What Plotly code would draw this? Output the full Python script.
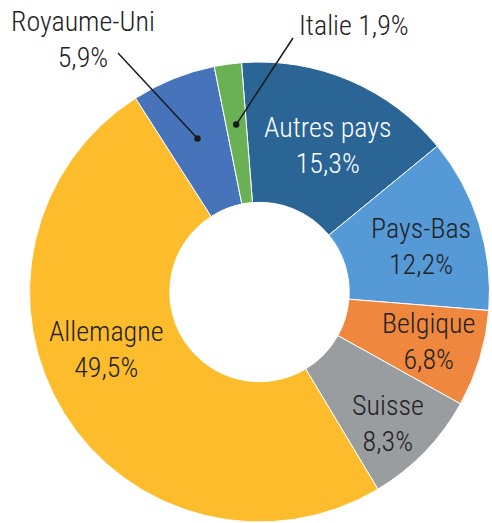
import math
import plotly.graph_objects as go

countries = ["Autres pays", "Pays-Bas", "Belgique", "Suisse", "Allemagne", "Royaume-Uni", "Italie"]
shares = [15.3, 12.2, 6.8, 8.3, 49.5, 5.9, 1.9]
value_labels = ["15,3%", "12,2%", "6,8%", "8,3%", "49,5%", "5,9%", "1,9%"]
colors = ["#2a6596", "#559ad6", "#ef873e", "#9a9da0", "#fdbc2b", "#4673b9", "#6ab155"]

W, H = 492, 523
CX, CY, R = 259.5, 292.0, 230.0
ROT = -4.5
FONT = "Roboto Condensed, Roboto, sans-serif"
FS = 28

fig = go.Figure(go.Pie(
    labels=countries,
    values=shares,
    sort=False,
    direction="clockwise",
    rotation=ROT,
    hole=0.39,
    marker=dict(colors=colors, line=dict(color="white", width=1)),
    textinfo="none",
    hoverinfo="label+percent",
    showlegend=False,
    domain=dict(x=[(CX - R) / W, (CX + R) / W], y=[1 - (CY + R) / H, 1 - (CY - R) / H]),
))

def px(x, y):
    return x / W, 1 - y / H

# label text positions (pixel coordinates of block centre) and text colours
label_pos = {
    "Autres pays": (327.5, 146, "white"),
    "Pays-Bas": (421, 246, "#222222"),
    "Belgique": (428, 341, "#222222"),
    "Suisse": (388, 423, "#222222"),
    "Allemagne": (106.5, 349, "#222222"),
    "Royaume-Uni": (83, 40, "#222222"),
}

annotations = []
for name, val in zip(countries, value_labels):
    if name == "Italie":
        x, y = px(354, 25)
        annotations.append(dict(x=x, y=y, xref="paper", yref="paper", showarrow=False,
                                text=f"{name} {val}", xanchor="center", yanchor="middle",
                                font=dict(family=FONT, size=FS, color="#222222", weight=300)))
        continue
    lx, ly, col = label_pos[name]
    x, y = px(lx, ly)
    annotations.append(dict(x=x, y=y, xref="paper", yref="paper", showarrow=False,
                            text=f"{name}<br>{val}", xanchor="center", yanchor="middle",
                            align="center",
                            font=dict(family=FONT, size=FS, color=col, weight=300)))

# leader lines with dots for the small slices
total = sum(shares)
cum = 0.0
mids = {}
for name, v in zip(countries, shares):
    mids[name] = ROT + (cum + v / 2) / total * 360.0
    cum += v

shapes = []
leader_tails = {"Royaume-Uni": (118, 53, 0.72), "Italie": (293, 38, 0.735)}
for name, (tx, ty, rf) in leader_tails.items():
    a = math.radians(mids[name])
    dx = CX + rf * R * math.sin(a)
    dy = CY - rf * R * math.cos(a)
    x0, y0 = px(tx, ty)
    x1, y1 = px(dx, dy)
    shapes.append(dict(type="line", xref="paper", yref="paper", x0=x0, y0=y0, x1=x1, y1=y1,
                       line=dict(color="#1a1a1a", width=1.5)))
    r = 3.2
    shapes.append(dict(type="circle", xref="paper", yref="paper",
                       x0=(dx - r) / W, x1=(dx + r) / W, y0=1 - (dy + r) / H, y1=1 - (dy - r) / H,
                       fillcolor="#1a1a1a", line=dict(width=0)))

fig.update_layout(
    width=W, height=H,
    margin=dict(l=0, r=0, t=0, b=0),
    paper_bgcolor="white",
    plot_bgcolor="white",
    annotations=annotations,
    shapes=shapes,
)

fig.write_html("out.html",
               config={"displayModeBar": False},
               post_script="document.body.style.margin='0';document.body.style.overflow='hidden';")
